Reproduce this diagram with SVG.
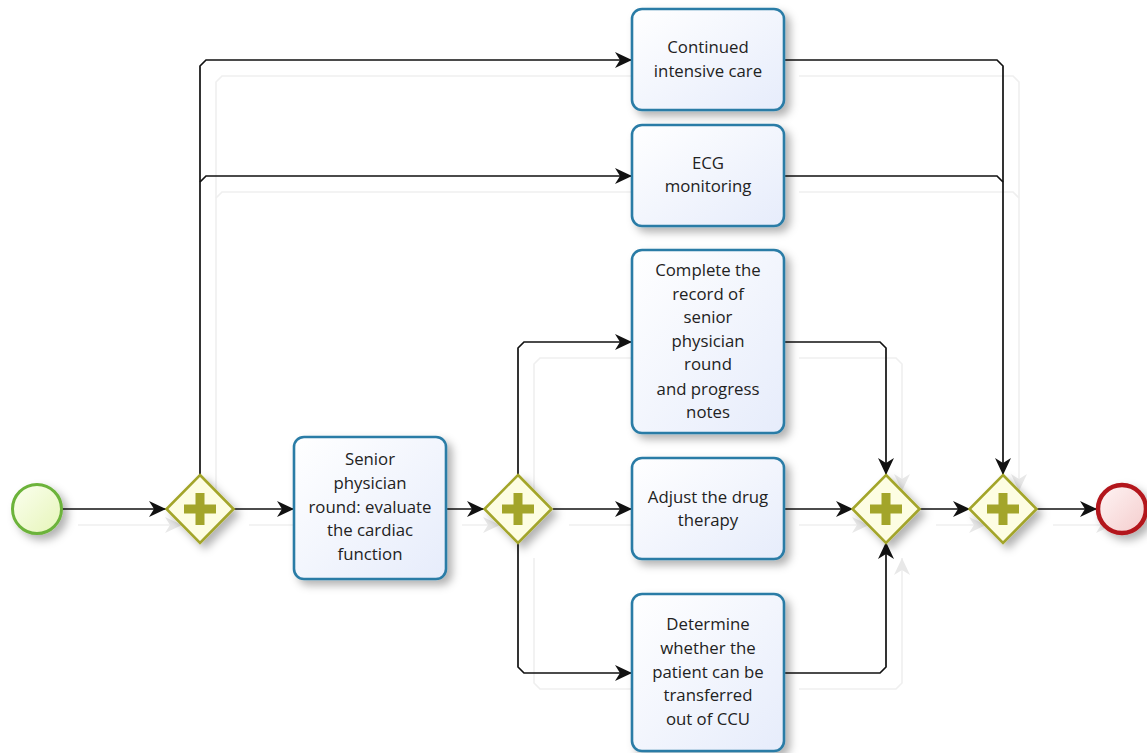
<svg xmlns="http://www.w3.org/2000/svg" width="1147" height="753" viewBox="0 0 1147 753">
  <style>
    .flow { fill: none; stroke: #111; stroke-width: 1.7; marker-end: url(#arrow); }
    .flow.merge { marker-end: none; }
    .ghost { fill: none; stroke: #efefef; stroke-width: 1.6; marker-end: url(#arrowGhost); }
    .ghost.merge { marker-end: none; }
    .task rect { fill: url(#taskFill); stroke: #2a7ca6; stroke-width: 2.6; filter: url(#shadow); }
    .task text { font-family: "Open Sans", "Noto Sans", sans-serif; font-size: 16.8px; fill: #222; text-anchor: middle; }
    .gw polygon { fill: #fdfde2; stroke: #a3a52a; stroke-width: 2.6; filter: url(#shadow); }
    .gw path { fill: none; stroke: #a3a52a; stroke-width: 9; }
  </style>
  <defs>
    <linearGradient id="taskFill" x1="0" y1="0" x2="1" y2="1">
      <stop offset="0" stop-color="#ffffff"/>
      <stop offset="1" stop-color="#e6ecfb"/>
    </linearGradient>
    <linearGradient id="startFill" x1="0" y1="0" x2="1" y2="1">
      <stop offset="0" stop-color="#fbfff0"/>
      <stop offset="1" stop-color="#e6f5b8"/>
    </linearGradient>
    <linearGradient id="endFill" x1="0" y1="0" x2="1" y2="1">
      <stop offset="0" stop-color="#fff5f5"/>
      <stop offset="1" stop-color="#f4cccc"/>
    </linearGradient>
    <filter id="shadow" x="-30%" y="-30%" width="160%" height="160%">
      <feDropShadow dx="5" dy="5" stdDeviation="4" flood-color="#000" flood-opacity="0.3"/>
    </filter>
    <marker id="arrow" markerUnits="userSpaceOnUse" markerWidth="18" markerHeight="16" refX="17" refY="8" orient="auto">
      <path d="M0,0 L17,8 L0,16 L5,8 z" fill="#111"/>
    </marker>
    <marker id="arrowGhost" markerUnits="userSpaceOnUse" markerWidth="18" markerHeight="16" refX="17" refY="8" orient="auto">
      <path d="M0,0 L17,8 L0,16 L5,8 z" fill="#e8e8e8"/>
    </marker>
  </defs>

  <rect width="1147" height="753" fill="#ffffff"/>

  <!-- faint connector shadows -->
  <g id="connector-shadows" transform="translate(16,16)">
    <path class="ghost" d="M62,509 H166"/>
    <path class="ghost" d="M233,509 H294"/>
    <path class="ghost" d="M200,475 V66 L206,60 H632"/>
    <path class="ghost" d="M200,182 L206,176 H632"/>
    <path class="ghost" d="M446,509 H484"/>
    <path class="ghost" d="M518,475 V348 L524,342 H632"/>
    <path class="ghost" d="M553,509 H632"/>
    <path class="ghost" d="M518,542 V667 L524,673 H632"/>
    <path class="ghost" d="M783,60 H997 L1003,66 V475"/>
    <path class="ghost merge" d="M783,176 H997 L1003,182"/>
    <path class="ghost" d="M783,342 H880 L886,348 V475"/>
    <path class="ghost" d="M783,509 H853"/>
    <path class="ghost" d="M783,673 H880 L886,667 V542"/>
    <path class="ghost" d="M920,509 H970"/>
    <path class="ghost" d="M1037,509 H1097"/>
  </g>

  <!-- sequence flows -->
  <g id="connectors">
    <path class="flow" d="M62,509 H166"/>
    <path class="flow" d="M233,509 H294"/>
    <path class="flow" d="M200,475 V66 L206,60 H632"/>
    <path class="flow" d="M200,182 L206,176 H632"/>
    <path class="flow" d="M446,509 H484"/>
    <path class="flow" d="M518,475 V348 L524,342 H632"/>
    <path class="flow" d="M553,509 H632"/>
    <path class="flow" d="M518,542 V667 L524,673 H632"/>
    <path class="flow" d="M783,60 H997 L1003,66 V475"/>
    <path class="flow merge" d="M783,176 H997 L1003,182"/>
    <path class="flow" d="M783,342 H880 L886,348 V475"/>
    <path class="flow" d="M783,509 H853"/>
    <path class="flow" d="M783,673 H880 L886,667 V542"/>
    <path class="flow" d="M920,509 H970"/>
    <path class="flow" d="M1037,509 H1097"/>
  </g>

  <!-- events -->
  <g id="start">
    <circle cx="37" cy="509" r="24.5" fill="url(#startFill)" stroke="#6cb33a" stroke-width="3" filter="url(#shadow)"/>
  </g>
  <g id="end">
    <circle cx="1122" cy="509" r="24" fill="url(#endFill)" stroke="#b3161c" stroke-width="4.5" filter="url(#shadow)"/>
  </g>

  <!-- parallel gateways -->
  <g id="gw-split-1" class="gw">
    <polygon points="200,475 233.5,509 200,543 166.5,509"/>
    <path d="M184,509 H216 M200,493 V525"/>
  </g>
  <g id="gw-split-2" class="gw">
    <polygon points="518,475 551.5,509 518,543 484.5,509"/>
    <path d="M502,509 H534 M518,493 V525"/>
  </g>
  <g id="gw-join-1" class="gw">
    <polygon points="886,475 919.5,509 886,543 852.5,509"/>
    <path d="M870,509 H902 M886,493 V525"/>
  </g>
  <g id="gw-join-2" class="gw">
    <polygon points="1003,475 1036.5,509 1003,543 969.5,509"/>
    <path d="M987,509 H1019 M1003,493 V525"/>
  </g>

  <!-- tasks -->
  <g id="task-senior-round" class="task">
    <rect x="294" y="437" width="152" height="142" rx="10"/>
    <text x="370" y="465">Senior</text>
    <text x="370" y="489">physician</text>
    <text x="370" y="513">round: evaluate</text>
    <text x="370" y="536">the cardiac</text>
    <text x="370" y="560">function</text>
  </g>
  <g id="task-intensive-care" class="task">
    <rect x="632" y="9" width="152" height="101" rx="10"/>
    <text x="708" y="53">Continued</text>
    <text x="708" y="77">intensive care</text>
  </g>
  <g id="task-ecg" class="task">
    <rect x="632" y="125" width="152" height="101" rx="10"/>
    <text x="708" y="169">ECG</text>
    <text x="708" y="192">monitoring</text>
  </g>
  <g id="task-record" class="task">
    <rect x="632" y="250" width="152" height="183" rx="10"/>
    <text x="708" y="276">Complete the</text>
    <text x="708" y="300">record of</text>
    <text x="708" y="323">senior</text>
    <text x="708" y="347">physician</text>
    <text x="708" y="370">round</text>
    <text x="708" y="395">and progress</text>
    <text x="708" y="418">notes</text>
  </g>
  <g id="task-drug" class="task">
    <rect x="632" y="458" width="152" height="101" rx="10"/>
    <text x="708" y="503">Adjust the drug</text>
    <text x="708" y="526">therapy</text>
  </g>
  <g id="task-transfer" class="task">
    <rect x="632" y="594" width="152" height="157" rx="10"/>
    <text x="708" y="630">Determine</text>
    <text x="708" y="654">whether the</text>
    <text x="708" y="678">patient can be</text>
    <text x="708" y="701">transferred</text>
    <text x="708" y="725">out of CCU</text>
  </g>
</svg>
